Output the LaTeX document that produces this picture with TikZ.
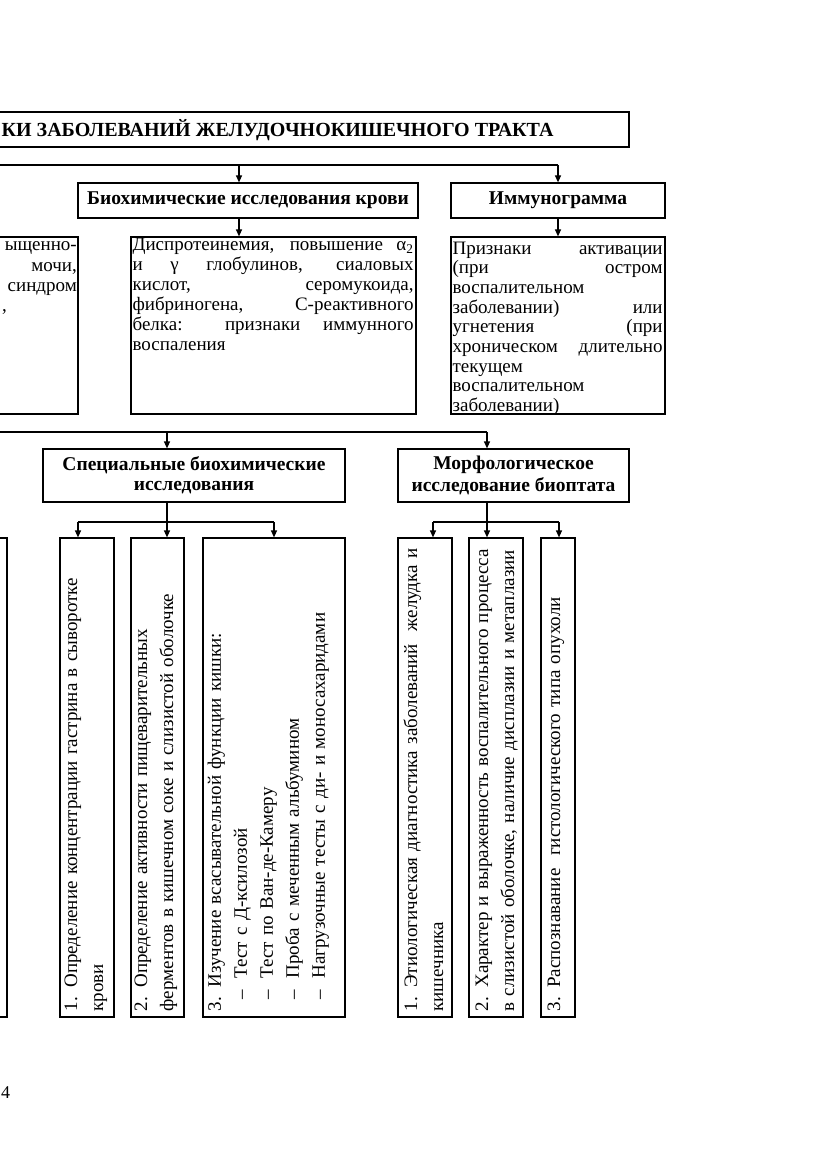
\documentclass[tikz,border=0pt]{standalone}
\usepackage{fontspec}
\setmainfont{Liberation Serif}
\usetikzlibrary{arrows.meta,positioning,calc}
\tolerance=10000
\hbadness=10000

\begin{document}
\begin{tikzpicture}[
        x=1pt, y=-1pt,
        >={Triangle[length=7pt,width=6pt]},
        box/.style={rectangle,draw,line width=1.2pt,inner sep=0pt},
        head/.style={font=\fontsize{19.5}{20}\selectfont\bfseries,align=center},
        txt/.style={font=\fontsize{19}{20}\selectfont,inner sep=0pt,align=justify},
        vtxt/.style={font=\fontsize{19}{26}\selectfont,rotate=90,inner sep=0pt,align=left,text width=468pt},
        conn/.style={->,line width=1.2pt}
      ]
        \useasboundingbox (0,0) rectangle (831,1174);

        % title and first level
        \node[box,minimum width=649pt,minimum height=35pt] (titlebox) at (304.5,129.5) {};
        \node[head,font=\fontsize{20}{20}\selectfont\bfseries,anchor=east] (title) at (557,130) {КИ ЗАБОЛЕВАНИЙ ЖЕЛУДОЧНОКИШЕЧНОГО ТРАКТА};
        \node[box,head,minimum width=340pt,minimum height=35pt] (bio) at (248,200.5) {Биохимические исследования крови};
        \node[box,head,minimum width=214pt,minimum height=35pt] (imm) at (558,200.5) {Иммунограмма};

        % result boxes
        \node[box,minimum width=98pt,minimum height=177pt]  (lefttop) at (29,325.5) {};
        \node[box,minimum width=285pt,minimum height=177pt] (dys)     at (273.5,325.5) {};
        \node[box,minimum width=214pt,minimum height=177pt] (immres)  at (558,325.5) {};

        \node[txt,anchor=base east] (lt1) at (77,251) {ыщенно-};
        \node[txt,anchor=base east] (lt2) at (77,271) {мочи,};
        \node[txt,anchor=base east] (lt3) at (77,291) {синдром};
        \node[txt,anchor=base west] (lt4) at (2,311) {,};

        \node[txt,text width=281pt,anchor=north west] (dystxt) at ($(dys.north west)+(2,1.5)$)
          {Диспротеинемия, повышение α\textsubscript{2}\linebreak и γ глобулинов, сиаловых\linebreak кислот, серомукоида,\linebreak фибриногена, С-реактивного\linebreak белка: признаки иммунного\linebreak воспаления};

        \begin{scope}
          \clip (immres.north west) rectangle (immres.south east);
          \node[txt,font=\fontsize{19}{19.7}\selectfont,text width=210pt,anchor=north west] (immtxt) at ($(immres.north west)+(2,5)$)
            {Признаки активации\linebreak (при остром\linebreak воспалительном\\ заболевании) или\linebreak угнетения (при\linebreak хроническом длительно\linebreak текущем\\ воспалительном\\ заболевании)};
        \end{scope}

        % second level
        \node[box,head,minimum width=302pt,minimum height=53pt] (spec)  at (194,475.5) {Специальные биохимические\\ исследования};
        \node[box,head,minimum width=231pt,minimum height=53pt] (morph) at (513.5,475.5) {Морфологическое\\[2pt] исследование биоптата};

        % vertical boxes
        \node[box,minimum width=27pt,minimum height=479pt]  (vleft)  at (-6.5,777.5) {};
        \node[box,minimum width=54pt,minimum height=479pt]  (gast)   at (87,777.5) {};
        \node[box,minimum width=53pt,minimum height=479pt]  (ferm)   at (157.5,777.5) {};
        \node[box,minimum width=142pt,minimum height=479pt] (absorp) at (274,777.5) {};
        \node[box,minimum width=54pt,minimum height=479pt]  (etio)   at (425,777.5) {};
        \node[box,minimum width=54pt,minimum height=479pt]  (infl)   at (496,777.5) {};
        \node[box,minimum width=34pt,minimum height=479pt]  (tumor)  at (558,777.5) {};

        \node[vtxt,anchor=north west] (gasttxt) at ($(gast.south west)+(5,-6)$)
          {1. Определение концентрации гастрина в сыворотке\\ крови};
        \node[vtxt,anchor=north west] (fermtxt) at ($(ferm.south west)+(4,-6)$)
          {2. Определение активности пищеварительных\\ ферментов в кишечном соке и слизистой оболочке};
        \node[vtxt,anchor=north west] (abstxt) at ($(absorp.south west)+(5,-6)$)
          {3. Изучение всасывательной функции кишки:\\
           \hspace*{12pt}\makebox[21pt][l]{–}Тест с Д-ксилозой\\
           \hspace*{12pt}\makebox[21pt][l]{–}Тест по Ван-де-Камеру\\
           \hspace*{12pt}\makebox[21pt][l]{–}Проба с меченным альбумином\\
           \hspace*{12pt}\makebox[21pt][l]{–}Нагрузочные тесты с ди- и моносахаридами};
        \node[vtxt,anchor=north west] (etiotxt) at ($(etio.south west)+(6,-6)$)
          {1. Этиологическая диагностика заболеваний~ желудка и\\ кишечника};
        \node[vtxt,anchor=north west] (infltxt) at ($(infl.south west)+(7,-6)$)
          {2. Характер и выраженность воспалительного процесса\\ в слизистой оболочке, наличие дисплазии и метаплазии};
        \node[vtxt,anchor=north west] (tumtxt) at ($(tumor.south west)+(7,-6)$)
          {3. Распознавание~ гистологического типа опухоли};

        \node[font=\fontsize{18}{18}\selectfont,inner sep=0pt,anchor=west] (page) at (1,1093) {4};

        % connectors
        \coordinate (b1)  at (-20,165);
        \coordinate (b1a) at (239,165);
        \draw[line width=1.2pt] (b1) -- (b1 -| imm.north);
        \draw[conn] (b1a) -- (b1a |- bio.north);
        \draw[conn] (b1 -| imm.north) -- (imm.north);
        \draw[conn] (bio.south -| b1a) -- (dys.north -| b1a);
        \draw[conn] (imm.south) -- (immres.north);

        \coordinate (b2)  at (-20,432);
        \coordinate (b2a) at (167,432);
        \coordinate (b2b) at (487,432);
        \draw[line width=1.2pt] (b2) -- (b2b);
        \draw[conn] (b2a) -- (b2a |- spec.north);
        \draw[conn] (b2b) -- (b2b |- morph.north);

        \coordinate (sL) at (78,522);
        \coordinate (sM) at (167,522);
        \coordinate (sR) at (274,522);
        \draw[line width=1.2pt] (spec.south -| sM) -- (sM);
        \draw[line width=1.2pt] (sL) -- (sR);
        \draw[conn] (sL) -- (sL |- gast.north);
        \draw[conn] (sM) -- (sM |- ferm.north);
        \draw[conn] (sR) -- (absorp.north);

        \coordinate (mL) at (433,522);
        \coordinate (mM) at (487,522);
        \coordinate (mR) at (559,522);
        \draw[line width=1.2pt] (morph.south -| mM) -- (mM);
        \draw[line width=1.2pt] (mL) -- (mR);
        \draw[conn] (mL) -- (mL |- etio.north);
        \draw[conn] (mM) -- (mM |- infl.north);
        \draw[conn] (mR) -- (mR |- tumor.north);
      \end{tikzpicture}
\end{document}
